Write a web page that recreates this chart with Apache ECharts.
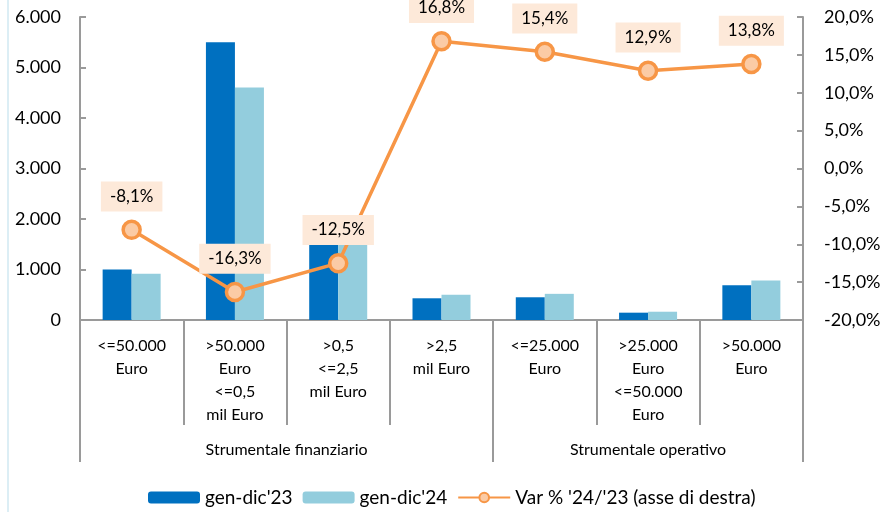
<!DOCTYPE html>
<html>
<head>
<meta charset="utf-8">
<script src="https://cdn.jsdelivr.net/npm/echarts@6/dist/echarts.min.js"></script>
<style>html,body{margin:0;padding:0;background:#fff}#c{width:886px;height:512px}</style>
</head>
<body>
<div id="c"></div>
<script>
const categories = [
  "<=50.000\nEuro",
  ">50.000\nEuro\n<=0,5\nmil Euro",
  ">0,5\n<=2,5\nmil Euro",
  ">2,5\nmil Euro",
  "<=25.000\nEuro",
  ">25.000\nEuro\n<=50.000\nEuro",
  ">50.000\nEuro"
];
const groupLabels = ["Strumentale finanziario", "Strumentale operativo"];
const groupCenters = [2, 5.5];
const groupBounds = [0, 4, 7];
const seriesNames = ["gen-dic'23", "gen-dic'24", "Var % '24/'23 (asse di destra)"];
const val23 = [1000, 5500, 1750, 430, 450, 145, 687];
const val24 = [915, 4605, 1530, 500, 518, 164, 780];
const varPct = [-8.1, -16.3, -12.5, 16.8, 15.4, 12.9, 13.8];
const leftTicks = { min: 0, max: 6000, interval: 1000 };
const rightTicks = { min: -20, max: 20, interval: 5 };

const FONT = 'Lato';
const GREY = '#9a9a9a';
const chart = echarts.init(document.getElementById('c'), null, { renderer: 'canvas' });
const fmtThousands = v => String(v).replace(/\B(?=(\d{3})+(?!\d))/g, '.');
const fmtPct = v => v.toFixed(1).replace('.', ',') + '%';

chart.setOption({
  animation: false,
  textStyle: { fontFamily: FONT },
  grid: { left: 80, right: 83, top: 17, bottom: 192, containLabel: false },
  graphic: [{ type: 'rect', shape: { x: 7, y: 0, width: 2, height: 512 }, style: { fill: '#DCEEF5' } }],
  legend: {
    bottom: 0, left: 143,
    itemWidth: 52, itemHeight: 12, itemGap: 10,
    textStyle: { fontFamily: FONT, fontSize: 19, color: '#000' },
    data: seriesNames
  },
  xAxis: [
    {
      type: 'category', data: categories, boundaryGap: true,
      axisLine: { show: true, lineStyle: { color: GREY, width: 2 } },
      axisTick: { show: true, length: 105, interval: 0, lineStyle: { color: GREY, width: 2 } },
      axisLabel: { interval: 0, margin: 14, fontFamily: FONT, fontSize: 16, lineHeight: 23, color: '#000' }
    },
    {
      type: 'value', min: 0, max: 7, position: 'bottom',
      axisLine: { show: false, onZero: false },
      splitLine: { show: false },
      axisTick: { show: true, length: 142, customValues: groupBounds, lineStyle: { color: GREY, width: 2 } },
      axisLabel: {
        customValues: groupCenters, margin: 122, fontFamily: FONT, fontSize: 16, color: '#000',
        formatter: v => groupLabels[groupCenters.indexOf(v)]
      }
    }
  ],
  yAxis: [
    {
      type: 'value', min: leftTicks.min, max: leftTicks.max, interval: leftTicks.interval,
      axisLine: { show: true, lineStyle: { color: GREY, width: 2 } },
      axisTick: { show: true, inside: true, length: 6, lineStyle: { color: GREY, width: 2 } },
      splitLine: { show: false },
      axisLabel: { margin: 19, fontFamily: FONT, fontSize: 18, color: '#000', formatter: fmtThousands }
    },
    {
      type: 'value', min: rightTicks.min, max: rightTicks.max, interval: rightTicks.interval, position: 'right',
      axisLine: { show: true, lineStyle: { color: GREY, width: 2 } },
      axisTick: { show: true, inside: true, length: 6, lineStyle: { color: GREY, width: 2 } },
      splitLine: { show: false },
      axisLabel: { margin: 21, fontFamily: FONT, fontSize: 18, color: '#000', formatter: fmtPct }
    }
  ],
  series: [
    { name: seriesNames[0], type: 'bar', data: val23, barWidth: 29, barGap: '0%', itemStyle: { color: '#0070C0' } },
    { name: seriesNames[1], type: 'bar', data: val24, barWidth: 29, barGap: '0%', itemStyle: { color: '#93CDDD' } },
    {
      name: seriesNames[2], type: 'line', yAxisIndex: 1, data: varPct, z: 5,
      symbol: 'circle', symbolSize: 17,
      lineStyle: { color: '#F79646', width: 3.5 },
      itemStyle: { color: '#FBCBA5', borderColor: '#F79646', borderWidth: 3.5 },
      label: {
        show: true, position: 'top', distance: 8,
        fontFamily: FONT, fontSize: 17, lineHeight: 18, color: '#000',
        backgroundColor: '#FDE9D9', padding: [6, 9, 6, 9],
        formatter: p => fmtPct(p.value)
      }
    }
  ]
});
</script>
</body>
</html>
